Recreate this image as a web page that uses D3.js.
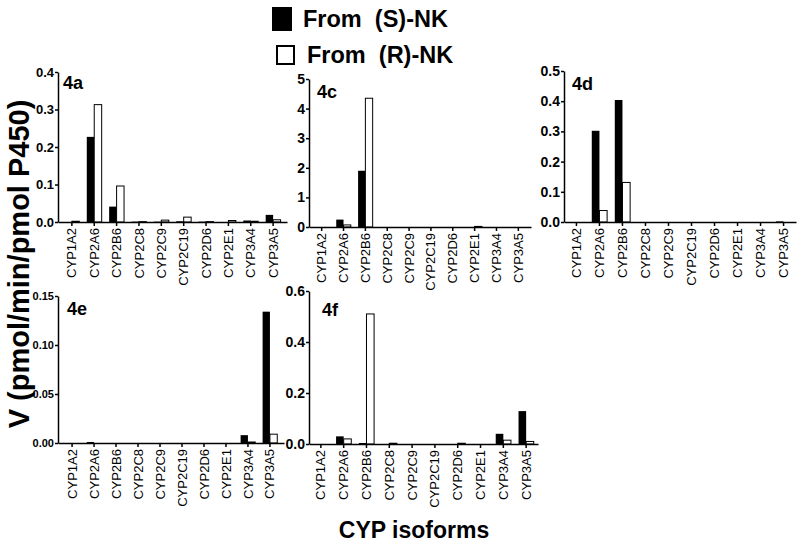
<!DOCTYPE html>
<html lang="en">
<head>
<meta charset="UTF-8">
<title>CYP isoforms</title>
<style>
* { margin: 0; padding: 0; box-sizing: border-box; }
body { background: #fff; overflow: hidden; }
svg { display: block; font-family: "Liberation Sans", Arial, sans-serif; }
</style>
</head>
<body>
<div id="chart"></div>
<script src="https://d3js.org/d3.v7.min.js"></script>
<script>
// Rate of formation per CYP isoform, from (S)-NK (black) and (R)-NK (white)
var categories = ["CYP1A2", "CYP2A6", "CYP2B6", "CYP2C8", "CYP2C9", "CYP2C19", "CYP2D6", "CYP2E1", "CYP3A4", "CYP3A5"];

var s4a = [0, 0.227, 0.041, 0.001, 0.001, 0.002, 0.001, 0, 0.004, 0.019];
var r4a = [0.002, 0.313, 0.096, 0.001, 0.005, 0.013, 0.001, 0.004, 0.002, 0.006];
var s4c = [0, 0.25, 1.9, 0, 0, 0, 0, 0, 0, 0];
var r4c = [0, 0.07, 4.35, 0, 0, 0, 0, 0.02, 0, 0];
var s4d = [0, 0.302, 0.404, 0, 0, 0, 0, 0, 0, 0.002];
var r4d = [0, 0.038, 0.131, 0, 0, 0, 0, 0, 0, 0];
var s4e = [0, 0.001, 0, 0, 0, 0, 0, 0, 0.008, 0.134];
var r4e = [0, 0, 0, 0, 0, 0, 0, 0, 0.001, 0.009];
var s4f = [0, 0.030, 0.004, 0, 0, 0, 0, 0, 0.040, 0.129];
var r4f = [0, 0.020, 0.51, 0.003, 0, 0, 0.003, 0, 0.015, 0.010];

var ticks4a = [0, 0.1, 0.2, 0.3, 0.4];
var ticks4c = [0, 1, 2, 3, 4, 5];
var ticks4d = [0, 0.1, 0.2, 0.3, 0.4, 0.5];
var ticks4e = [0, 0.05, 0.10, 0.15];
var ticks4f = [0, 0.2, 0.4, 0.6];

var legendLabels = ["From  (S)-NK", "From  (R)-NK"];

var FONT = '"Liberation Sans", Arial, sans-serif';

// layout of each small panel
var panels = [
	{ name: "4a", s: s4a, r: r4a, ticks: ticks4a, fmt: ".1f", fs: 13, x: [58, 287], pad: 0.12, y: [222, 72], lab: [63, 89] },
	{ name: "4c", s: s4c, r: r4c, ticks: ticks4c, fmt: "d", fs: 14, x: [309, 531], pad: 0.08, y: [227, 79], lab: [317, 98] },
	{ name: "4d", s: s4d, r: r4d, ticks: ticks4d, fmt: ".1f", fs: 14, x: [564, 796], pad: 0.04, y: [222, 71], lab: [572, 90] },
	{ name: "4e", s: s4e, r: r4e, ticks: ticks4e, fmt: ".2f", fs: 11, x: [58, 284], pad: 0.14, y: [443, 296], lab: [67, 315] },
	{ name: "4f", s: s4f, r: r4f, ticks: ticks4f, fmt: ".1f", fs: 14, x: [309, 538], pad: 0.02, y: [444, 291], lab: [322, 316] }
];

var width = 800, height = 548;

var svg = d3.select("#chart").append("svg")
	.attr("width", width)
	.attr("height", height);

svg.append("rect").attr("width", width).attr("height", height).attr("fill", "#fff");

panels.forEach(function(p) {
	var x = d3.scaleBand().domain(categories).range(p.x).paddingInner(0).paddingOuter(p.pad);
	var sub = d3.scaleBand().domain(["S", "R"]).range([0, x.bandwidth()]).paddingInner(0).paddingOuter(0.5);
	var y = d3.scaleLinear().domain([0, d3.max(p.ticks)]).range(p.y);

	var g = svg.append("g");

	var rows = categories.map(function(c, i) { return { cat: c, s: p.s[i], r: p.r[i] }; });

	g.selectAll("rect.s").data(rows.filter(function(d) { return d.s > 0; })).join("rect")
		.attr("class", "s")
		.attr("x", function(d) { return x(d.cat) + sub("S"); })
		.attr("y", function(d) { return y(d.s); })
		.attr("width", sub.bandwidth())
		.attr("height", function(d) { return y(0) - y(d.s); })
		.attr("fill", "#000");

	g.selectAll("rect.r").data(rows.filter(function(d) { return d.r > 0; })).join("rect")
		.attr("class", "r")
		.attr("x", function(d) { return x(d.cat) + sub("R"); })
		.attr("y", function(d) { return y(d.r); })
		.attr("width", sub.bandwidth())
		.attr("height", function(d) { return y(0) - y(d.r); })
		.attr("fill", "#fff")
		.attr("stroke", "#000")
		.attr("stroke-width", 1);

	var ya = g.append("g")
		.attr("transform", "translate(" + p.x[0] + ",0)")
		.call(d3.axisLeft(y).tickValues(p.ticks).tickFormat(d3.format(p.fmt)).tickSize(3).tickSizeOuter(0).tickPadding(1));
	ya.selectAll("text")
		.style("font-family", FONT)
		.style("font-size", p.fs + "px")
		.style("font-weight", "bold")
		.attr("fill", "#000");

	var xa = g.append("g")
		.attr("transform", "translate(0," + p.y[0] + ")")
		.call(d3.axisBottom(x).tickSize(4).tickSizeOuter(0));
	xa.selectAll("text")
		.attr("transform", "rotate(-90)")
		.attr("x", -6)
		.attr("y", 0)
		.attr("dy", "0.35em")
		.attr("fill", "#000")
		.style("text-anchor", "end")
		.style("font-family", FONT)
		.style("font-size", "13px");

	g.selectAll(".domain, .tick line")
		.attr("stroke", "#000")
		.attr("stroke-width", 1.5);

	g.append("text")
		.attr("x", p.lab[0])
		.attr("y", p.lab[1])
		.style("font-size", "18px")
		.style("font-weight", "bold")
		.text(p.name);
});

// legend
var legend = svg.append("g");
legend.append("rect").attr("x", 272).attr("y", 7).attr("width", 20).attr("height", 24).attr("fill", "#000");
legend.append("rect").attr("x", 277).attr("y", 46).attr("width", 17).attr("height", 18)
	.attr("fill", "#fff").attr("stroke", "#000").attr("stroke-width", 2);
legend.selectAll("text.leg").data(legendLabels).join("text")
	.attr("class", "leg")
	.attr("x", function(d, i) { return i === 0 ? 303 : 307; })
	.attr("y", function(d, i) { return i === 0 ? 27 : 63; })
	.style("font-size", "23.5px")
	.style("font-weight", "bold")
	.style("white-space", "pre")
	.text(function(d) { return d; });

// axis titles
svg.append("text")
	.attr("transform", "translate(29,264) rotate(-90)")
	.attr("text-anchor", "middle")
	.style("font-size", "29px")
	.style("font-weight", "bold")
	.text("V (pmol/min/pmol P450)");

svg.append("text")
	.attr("x", 414)
	.attr("y", 538)
	.attr("text-anchor", "middle")
	.style("font-size", "23px")
	.style("font-weight", "bold")
	.text("CYP isoforms");
</script>
</body>
</html>
